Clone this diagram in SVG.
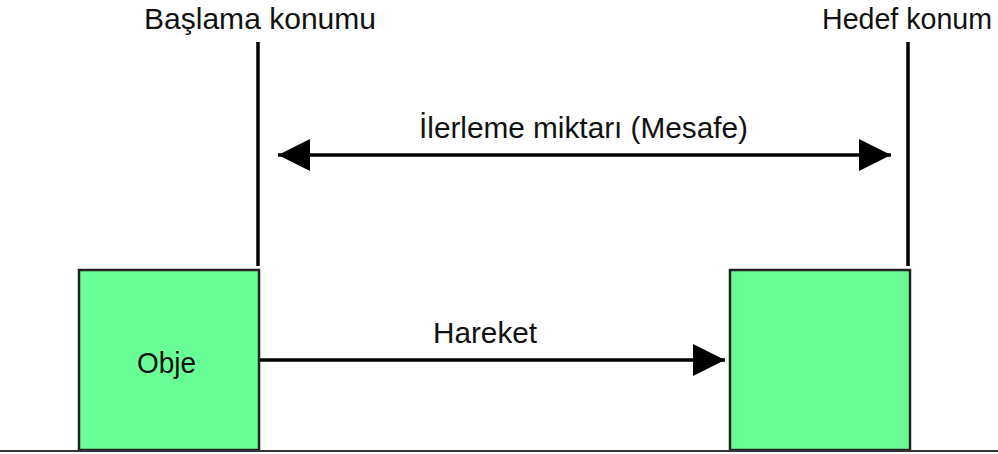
<svg xmlns="http://www.w3.org/2000/svg" width="998" height="454" viewBox="0 0 998 454">
<style>
.t{font-family:"Liberation Sans",Arial,sans-serif;font-size:29px;fill:#111}
.box{fill:#69ff96;stroke:#222;stroke-width:2.5}
.ln{stroke:#000;stroke-width:3.5;fill:none}
</style>
<defs>
<marker id="ah" viewBox="0 0 32 32" refX="32" refY="16" markerWidth="32" markerHeight="32" markerUnits="userSpaceOnUse" orient="auto-start-reverse">
<path d="M0,0 L32,16 L0,32 Z" fill="#000"/>
</marker>
</defs>
<rect width="998" height="454" fill="#fff"/>
<g id="start-label"><text class="t" x="144" y="29" textLength="232" lengthAdjust="spacingAndGlyphs">Başlama konumu</text></g>
<g id="target-label"><text class="t" x="822" y="29" textLength="170" lengthAdjust="spacingAndGlyphs">Hedef konum</text></g>
<g id="obje">
<rect class="box" x="79" y="270" width="180" height="180"/>
<text class="t" x="137" y="373" textLength="59" lengthAdjust="spacingAndGlyphs">Obje</text>
</g>
<g id="hedef">
<rect class="box" x="730" y="270" width="180" height="180"/>
</g>
<g id="connectors">
<line class="ln" x1="258" y1="42" x2="258" y2="266"/>
<line class="ln" x1="908" y1="42" x2="908" y2="266"/>
<line class="ln" x1="278" y1="155" x2="891" y2="155" marker-start="url(#ah)" marker-end="url(#ah)"/>
<line class="ln" x1="260" y1="360" x2="725" y2="360" marker-end="url(#ah)"/>
<line x1="0" y1="451" x2="998" y2="451" stroke="#333" stroke-width="2"/>
</g>
<g id="labels">
<text class="t" x="419" y="138" textLength="329" lengthAdjust="spacingAndGlyphs">İlerleme miktarı (Mesafe)</text>
<text class="t" x="433" y="343" textLength="104" lengthAdjust="spacingAndGlyphs">Hareket</text>
</g>
</svg>
